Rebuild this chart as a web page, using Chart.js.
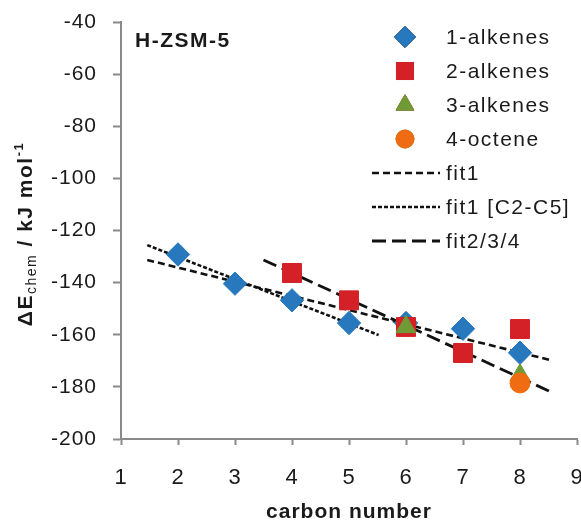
<!DOCTYPE html>
<html>
<head>
<meta charset="utf-8">
<script src="https://cdn.jsdelivr.net/npm/chart.js@4/dist/chart.umd.min.js"></script>
<style>
  html, body { margin: 0; padding: 0; background: #fff; }
  #wrap { width: 581px; height: 523px; position: relative; }
</style>
</head>
<body>
<div id="wrap"><canvas id="chart"></canvas></div>
<script>
// DATA
const carbon1 = [2, 3, 4, 5, 6, 7, 8];
const alkenes1 = [-129.2, -140.4, -146.8, -155.5, -155.5, -157.7, -166.9];
const carbon2 = [4, 5, 6, 7, 8];
const alkenes2 = [-136.3, -146.8, -157.0, -167.0, -157.8];
const carbon3 = [6, 8];
const alkenes3 = [-157.0, -175.5];
const carbon4 = [8];
const octene4 = [-178.5];

// fit lines: start / end points
const fit1X = [1.46, 8.53];
const fit1Y = [-131.3, -169.7];
const fit1C25X = [1.46, 5.52];
const fit1C25Y = [-125.6, -160.1];
const fit234X = [3.5, 8.53];
const fit234Y = [-131.3, -181.8];

const xTicks = [1, 2, 3, 4, 5, 6, 7, 8, 9];
const yTicks = [-200, -180, -160, -140, -120, -100, -80, -60, -40];

const pts = (xs, ys) => xs.map((x, i) => ({ x: x, y: ys[i] }));

const AXIS = '#8a8a8a';
const TEXT = '#1a1a1a';
const FONT = "'Liberation Sans', Arial, sans-serif";

// LEGEND + TEXT PLUGIN
const extras = {
  id: 'extras',
  beforeDraw(chart) {
    chart.ctx.letterSpacing = '1px';
  },
  afterDraw(chart) {
    const ctx = chart.ctx;
    ctx.save();
    ctx.letterSpacing = '1.5px';
    ctx.fillStyle = TEXT;

    // panel label
    ctx.font = 'bold 21px ' + FONT;
    ctx.textBaseline = 'middle';
    ctx.textAlign = 'left';
    ctx.fillText('H-ZSM-5', 135, 41);

    // legend
    const rows = [37, 71, 105, 139, 173, 207, 241];
    ctx.font = '21px ' + FONT;
    chart.data.datasets.forEach((ds, i) => {
      const y = rows[i];
      if (ds.showLine) {
        ctx.save();
        ctx.strokeStyle = ds.borderColor;
        ctx.lineWidth = ds.borderWidth;
        ctx.setLineDash(ds.borderDash);
        ctx.beginPath();
        ctx.moveTo(372, y);
        ctx.lineTo(440, y);
        ctx.stroke();
        ctx.restore();
      } else {
        Chart.helpers.drawPoint(ctx, {
          pointStyle: ds.pointStyle,
          radius: ds.pointRadius * 0.9,
          rotation: 0,
          borderWidth: 1
        }, 405, y);
        ctx.fillStyle = ds.backgroundColor;
        ctx.strokeStyle = ds.borderColor;
        ctx.fill();
        ctx.stroke();
      }
      ctx.fillStyle = TEXT;
      ctx.fillText(ds.label, 446, y + 1);
    });

    // y axis title with sub/superscript
    ctx.translate(32, 234);
    ctx.rotate(-Math.PI / 2);
    ctx.textBaseline = 'alphabetic';
    const segs = [
      { t: '\u0394E', f: 'bold 21px ' + FONT, dy: 0 },
      { t: 'chem', f: '14px ' + FONT, dy: 4 },
      { t: ' / kJ mol', f: 'bold 21px ' + FONT, dy: 0 },
      { t: '-1', f: 'bold 13px ' + FONT, dy: -9 }
    ];
    let total = 0;
    segs.forEach(s => { ctx.font = s.f; total += ctx.measureText(s.t).width; });
    let x = -total / 2;
    segs.forEach(s => {
      ctx.font = s.f;
      ctx.fillText(s.t, x, s.dy);
      x += ctx.measureText(s.t).width;
    });
    ctx.restore();
  }
};

const marker = (label, xs, ys, style, color, r, order) => ({
  label: label,
  data: pts(xs, ys),
  showLine: false,
  pointStyle: style,
  pointRadius: r,
  pointHoverRadius: r,
  pointBorderWidth: 1,
  backgroundColor: color,
  borderColor: color,
  order: order
});

const fitLine = (label, xs, ys, dash, w, order) => ({
  label: label,
  data: pts(xs, ys),
  showLine: true,
  borderColor: '#111',
  backgroundColor: '#111',
  borderWidth: w,
  borderDash: dash,
  pointRadius: 0,
  pointHoverRadius: 0,
  order: order
});

new Chart(document.getElementById('chart'), {
  type: 'scatter',
  data: {
    datasets: [
      marker('1-alkenes', carbon1, alkenes1, 'rectRot', '#2878be', 11.7, 4),
      marker('2-alkenes', carbon2, alkenes2, 'rect', '#d42027', 13.4, 3),
      marker('3-alkenes', carbon3, alkenes3, 'triangle', '#6f9a36', 11.5, 2),
      marker('4-octene', carbon4, octene4, 'circle', '#f06c12', 10, 1),
      fitLine('fit1', fit1X, fit1Y, [7, 4], 2.6, 7),
      fitLine('fit1 [C2-C5]', fit1C25X, fit1C25Y, [4, 2], 2.6, 6),
      fitLine('fit2/3/4', fit234X, fit234Y, [14, 6], 2.8, 5)
    ]
  },
  options: {
    responsive: true,
    maintainAspectRatio: false,
    animation: false,
    layout: { autoPadding: false, padding: { top: 22, right: 4, left: 0, bottom: 0 } },
    plugins: {
      legend: { display: false },
      tooltip: { enabled: false }
    },
    scales: {
      x: {
        type: 'linear',
        min: 1,
        max: 9,
        afterBuildTicks: s => { s.ticks = xTicks.map(v => ({ value: v })); },
        afterFit: s => { s.height = 84; s.paddingRight = 0; s.paddingLeft = 0; },
        ticks: { font: { size: 22, family: FONT }, color: TEXT, padding: 20, maxRotation: 0 },
        grid: { drawOnChartArea: false, tickLength: 6, tickColor: AXIS, tickWidth: 2 },
        border: { color: AXIS, width: 2 },
        title: {
          display: true,
          text: 'carbon number',
          font: { size: 21, weight: 'bold', family: FONT, lineHeight: 1 },
          color: TEXT,
          padding: { top: 0, bottom: 0 }
        }
      },
      y: {
        min: -200,
        max: -40,
        afterBuildTicks: s => { s.ticks = yTicks.map(v => ({ value: v })); },
        afterFit: s => { s.width = 121; s.paddingTop = 0; s.paddingBottom = 0; },
        ticks: { font: { size: 21, family: FONT }, color: TEXT, padding: 16 },
        grid: { drawOnChartArea: false, tickLength: 8, tickColor: AXIS, tickWidth: 2 },
        border: { color: AXIS, width: 2 }
      }
    }
  },
  plugins: [extras]
});
</script>
</body>
</html>
